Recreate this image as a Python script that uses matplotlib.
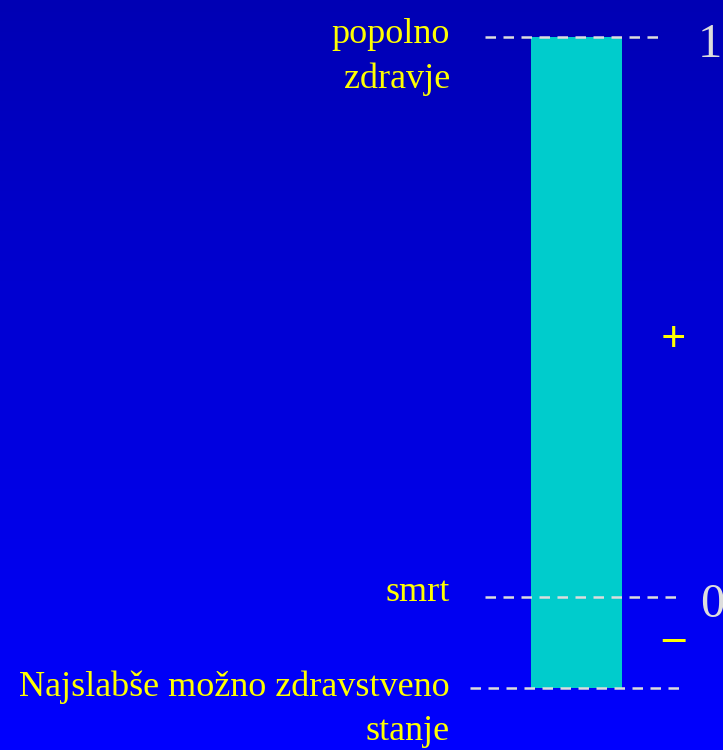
import matplotlib.pyplot as plt
import numpy as np

# health scale values (1 = full health, 0 = death, below 0 = worst possible state)
level_values = [1.0, 0.0, -0.1625]
level_labels = ['popolno\nzdravje', 'smrt', 'Najslabše možno zdravstveno\nstanje']
tick_labels = ['1', '0', '']
sign_labels = ['+', '–']
sign_values = [0.459, -0.077]

bar_top = level_values[0]
bar_bottom = level_values[2]

plt.rcParams['font.family'] = ['Liberation Serif', 'DejaVu Serif']

fig = plt.figure(figsize=(7.23, 7.5), dpi=100)
ax = fig.add_axes([0, 0, 1, 1])
ax.set_xlim(0, 723)
ax.set_ylim(-153 / 560, 1 + 37 / 560)
ax.axis('off')

# background gradient
grad = np.linspace(0, 1, 256).reshape(-1, 1)
top_c = np.array([0, 0, 180]) / 255
bot_c = np.array([0, 0, 255]) / 255
img = top_c + (bot_c - top_c) * grad[:, :, None]
ax.imshow(img, extent=[0, 723, -153 / 560, 1 + 37 / 560], aspect='auto', zorder=0, origin='upper')

# the bar
ax.bar(576.5, bar_top - bar_bottom, bottom=bar_bottom, width=91, color='#00CCCC', zorder=2)

# dashed level lines
line_x = [(485, 660), (485, 683), (470, 683)]
for val, (x0, x1) in zip(level_values, line_x):
    ax.plot([x0, x1], [val, val], color='#DDDDDD', lw=1.8, dashes=(4.2, 3.0), zorder=3)

# level labels (baseline of last line)
label_y = [1 - 51 / 560, -4 / 560, -143 / 560]
for lab, y in zip(level_labels, label_y):
    ax.text(450, y, lab, color='#FFFF00', fontsize=26, ha='right', va='baseline',
            linespacing=1.45, zorder=4)

# tick numbers ('1' kept inside the frame, '0' runs off the edge as in the original)
ax.text(722, level_values[0] - 8 / 560, tick_labels[0], color='#DDDDDD', fontsize=35,
        ha='right', va='center', zorder=4)
ax.text(700, level_values[1] - 8 / 560, tick_labels[1], color='#DDDDDD', fontsize=35,
        ha='left', va='center', zorder=4)

# signs
for s, v in zip(sign_labels, sign_values):
    ax.text(673, v, s, color='#FFFF00', fontsize=32, ha='center', va='center',
            fontweight='bold', zorder=4)

fig.savefig('out.png', dpi=100, facecolor='#0000C0')
